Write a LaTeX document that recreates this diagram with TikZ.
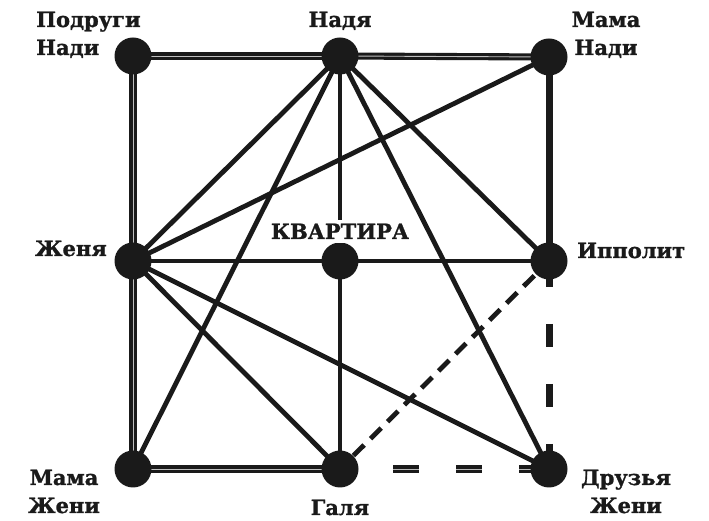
\documentclass[tikz,border=0pt]{standalone}
\usepackage{fontspec}
\setmainfont{DejaVu Serif}[BoldFeatures={FakeBold=1.2}]
\usetikzlibrary{backgrounds}
\definecolor{ink}{HTML}{1A1A1A}
\begin{document}
\begin{tikzpicture}[x=1pt,y=1pt,
  vert/.style={circle,fill=ink,minimum size=37pt,inner sep=0pt},
  lbl/.style={font=\bfseries\fontsize{21}{28}\selectfont,text=ink,inner sep=0pt},
  edge/.style={draw=ink,line width=4.8pt},
  dbl/.style={draw=ink,line width=3.1pt,double=gray!50,double distance=0.9pt},
  heavy/.style={draw=ink,line width=7pt},
  dheavy/.style={draw=ink,line width=7pt,dash pattern=on 23pt off 37pt,dash phase=57pt},
  ddbl/.style={draw=ink,line width=3.4pt,double=gray!55,double distance=0.8pt,dash pattern=on 26pt off 37pt,dash phase=10pt},
  dthin/.style={draw=ink,line width=4.8pt,dash pattern=on 15pt off 9pt,dash phase=-19pt}
]
\useasboundingbox (0,0) rectangle (709,521);

% vertices
\node[vert] (PN) at (133,465) {};
\node[vert] (N)  at (340,465) {};
\node[vert] (MN) at (549,464) {};
\node[vert] (Z)  at (133,260) {};
\node[vert] (K)  at (340,260) {};
\node[vert] (I)  at (549,260) {};
\node[vert] (MZ) at (133,52) {};
\node[vert] (G)  at (340,52) {};
\node[vert] (DZ) at (549,52) {};

% labels
\node[lbl,anchor=base west] (tPN1) at (36,494) {Подруги};
\node[lbl,anchor=base west] (tPN2) at (36,466) {Нади};
\node[lbl,anchor=base] (tN) at (340,494) {Надя};
\node[lbl,anchor=base] (tMN1) at (606,494) {Мама};
\node[lbl,anchor=base] (tMN2) at (606,466) {Нади};
\node[lbl,anchor=base east] (tZ) at (107,265) {Женя};
\node[lbl,anchor=base,fill=white,inner xsep=1pt,inner ysep=4pt] (tK) at (340,282) {КВАРТИРА};
\node[lbl,anchor=base west] (tI) at (577,263) {Ипполит};
\node[lbl,anchor=base] (tMZ1) at (64,36) {Мама};
\node[lbl,anchor=base] (tMZ2) at (64,8) {Жени};
\node[lbl,anchor=base] (tG) at (340,6) {Галя};
\node[lbl,anchor=base] (tDZ1) at (626,36) {Друзья};
\node[lbl,anchor=base] (tDZ2) at (626,8) {Жени};

\begin{pgfonlayer}{background}
  % double lines
  \draw[dbl] (PN.center) -- (N.center);
  \draw[dbl] (N.center) -- (MN.center);
  \draw[dbl] (PN.center) -- (Z.center);
  \draw[dbl] (Z.center) -- (MZ.center);
  \draw[dbl] (MZ.center) -- (G.center);
  % heavy line
  \draw[heavy] (MN.center) -- (I.center);
  % dashed
  \draw[dheavy] (I.center) -- (DZ.center);
  \draw[ddbl] (G.center) -- (DZ.center);
  \draw[dthin] (G.center) -- (I.center);
  % single lines
  \draw[edge] (N.center) -- (Z.center);
  \draw[edge] (N.center) -- (MZ.center);
  \draw[edge] (N.center) -- (K.center);
  \draw[edge] (N.center) -- (I.center);
  \draw[edge] (N.center) -- (DZ.center);
  \draw[edge] (Z.center) -- (MN.center);
  \draw[edge] (Z.center) -- (I.center);
  \draw[edge] (Z.center) -- (G.center);
  \draw[edge] (Z.center) -- (DZ.center);
  \draw[edge] (K.center) -- (G.center);
\end{pgfonlayer}
\end{tikzpicture}
\end{document}
